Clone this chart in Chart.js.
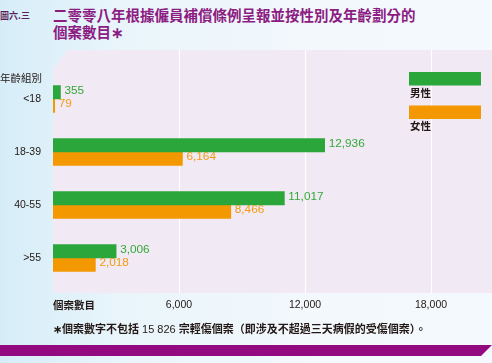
<!DOCTYPE html>
<html>
<head>
<meta charset="utf-8">
<script src="https://cdn.jsdelivr.net/npm/chart.js@4/dist/chart.umd.min.js"></script>
<style>
  body { margin: 0; }
  #page {
    position: relative; width: 492px; height: 363px; overflow: hidden;
    background: linear-gradient(to right, #d6edf8 0%, #e9f5fb 25%, #f2f8fc 60%, #f4f9fd 100%);
    font-family: 'Liberation Sans', 'Noto Sans CJK TC', sans-serif;
  }
  #fig { position: absolute; left: 0; top: 9px; font-size: 9px; font-weight: bold; color: #5a1f58; font-family: 'Noto Sans CJK TC', sans-serif; }
  #title {
    position: absolute; left: 53px; top: 6px; font-size: 14.5px; line-height: 17px;
    font-weight: bold; color: #8c1c82; font-family: 'Noto Sans CJK TC', sans-serif;
  }
  #note {
    position: absolute; left: 53px; top: 322px; font-size: 11px; line-height: 15px;
    font-weight: bold; color: #231815; font-family: 'Liberation Sans', 'Noto Sans CJK TC', sans-serif;
  }
  #note .num { font-weight: normal; }
  #band {
    position: absolute; left: 0; top: 345px; width: 492px; height: 11px; background: #930a80;
    clip-path: polygon(0 0, 100% 0, calc(100% - 11px) 100%, 0 100%);
  }
  canvas { position: absolute; left: 0; top: 0; }
</style>
</head>
<body>
<div id="page">
  <div id="fig">圖六.三</div>
  <div id="title">二零零八年根據僱員補償條例呈報並按性別及年齡劃分的<br>個案數目∗</div>
  <canvas id="chart" width="492" height="363"></canvas>
  <div id="note">∗個案數字不包括 <span class="num">15 826</span> 宗輕傷個案（即涉及不超過三天病假的受傷個案）。</div>
  <div id="band"></div>
</div>
<script>
// Age groups and case counts
const ageGroups = ['<18', '18-39', '40-55', '>55'];
const maleCases = [355, 12936, 11017, 3006];
const femaleCases = [79, 6164, 8466, 2018];
const xTicks = [6000, 12000, 18000];
const seriesNames = ['男性', '女性'];

const GREEN = '#2ba63a';
const ORANGE = '#f39800';
const LABEL_COLORS = ['#35a93a', '#f39a10'];

Chart.defaults.font.family = "'Liberation Sans', 'Noto Sans CJK TC', sans-serif";

// Lavender plot panel, white grid lines and side texts
const panelPlugin = {
    id: 'panel',
    beforeDatasetsDraw: function (chart) {
        const ctx = chart.ctx;
        const x = chart.scales.x;
        const left = chart.chartArea.left;
        ctx.save();
        ctx.fillStyle = '#f1e9f3';
        ctx.beginPath();
        ctx.moveTo(left, 69);
        ctx.lineTo(left + 14, 50);
        ctx.lineTo(chart.width, 50);
        ctx.lineTo(chart.width, 293);
        ctx.lineTo(left, 293);
        ctx.closePath();
        ctx.fill();

        ctx.strokeStyle = '#ffffff';
        ctx.lineWidth = 1.2;
        xTicks.forEach(function (v) {
            const px = Math.round(x.getPixelForValue(v)) + 0.5;
            ctx.beginPath();
            ctx.moveTo(px, 50);
            ctx.lineTo(px, 293);
            ctx.stroke();
        });

        // axis captions
        ctx.fillStyle = '#231815';
        ctx.textBaseline = 'middle';
        ctx.textAlign = 'left';
        ctx.font = "bold 10.5px 'Noto Sans CJK TC'";
        ctx.fillText('個案數目', left, 305);
        ctx.font = "10.5px 'Noto Sans CJK TC'";
        ctx.fillText('年齡組別', 0, 78);
        ctx.restore();
    },
    afterDatasetsDraw: function (chart) {
        const ctx = chart.ctx;
        ctx.save();
        ctx.font = "11.8px 'Liberation Sans'";
        ctx.textBaseline = 'middle';
        ctx.textAlign = 'left';
        chart.data.datasets.forEach(function (ds, i) {
            const meta = chart.getDatasetMeta(i);
            ctx.fillStyle = LABEL_COLORS[i];
            meta.data.forEach(function (el, j) {
                ctx.fillText(ds.data[j].toLocaleString('en-US'), el.x + 4, el.y - 2);
            });
        });

        // legend boxes on the right
        const boxTop = [72, 105.5];
        ctx.font = "bold 10.5px 'Noto Sans CJK TC'";
        chart.data.datasets.forEach(function (ds, i) {
            ctx.fillStyle = ds.backgroundColor;
            ctx.fillRect(409, boxTop[i], 72, 13.5);
            ctx.fillStyle = '#231815';
            ctx.fillText(ds.label, 410, boxTop[i] + 21);
        });
        ctx.restore();
    }
};

new Chart(document.getElementById('chart'), {
    type: 'bar',
    data: {
        labels: ageGroups,
        datasets: [
            { label: seriesNames[0], data: maleCases, backgroundColor: GREEN, barThickness: 13.5 },
            { label: seriesNames[1], data: femaleCases, backgroundColor: ORANGE, barThickness: 13.5 }
        ]
    },
    options: {
        indexAxis: 'y',
        responsive: false,
        animation: false,
        layout: { padding: { top: 72.5, right: 2.2, bottom: 38.5, left: 0 } },
        plugins: {
            legend: { display: false },
            tooltip: { enabled: false }
        },
        scales: {
            x: {
                min: 0,
                max: 20800,
                grid: { display: false, drawTicks: false },
                border: { display: false },
                afterBuildTicks: function (scale) {
                    scale.ticks = xTicks.map(function (v) { return { value: v }; });
                },
                afterFit: function (scale) { scale.height = 40; },
                ticks: {
                    padding: 14,
                    color: '#231815',
                    font: { size: 10.5 },
                    maxRotation: 0,
                    callback: function (v) { return v.toLocaleString('en-US'); }
                }
            },
            y: {
                grid: { display: false, drawTicks: false },
                border: { display: false },
                afterFit: function (scale) { scale.width = 53; },
                ticks: {
                    padding: 12,
                    color: '#231815',
                    font: { size: 10.5 }
                }
            }
        }
    },
    plugins: [panelPlugin]
});
</script>
</body>
</html>
